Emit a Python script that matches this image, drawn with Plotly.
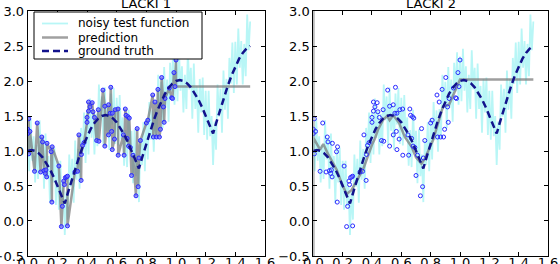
import numpy as np
import plotly.graph_objects as go

# ---------------- data ----------------
# ground truth sampled every 0.025
gt_y = [1.000, 1.013, 1.001, 0.966, 0.909, 0.832, 0.738, 0.629, 0.509, 0.381,
        0.250, 0.431, 0.609, 0.779, 0.938, 1.082, 1.209, 1.316, 1.401, 1.463,
        1.500, 1.513, 1.501, 1.466, 1.409, 1.332, 1.238, 1.129, 1.009, 0.881,
        0.750, 0.931, 1.109, 1.279, 1.438, 1.582, 1.709, 1.816, 1.901, 1.963,
        2.000, 2.013, 2.001, 1.966, 1.909, 1.832, 1.738, 1.629, 1.509, 1.381,
        1.250, 1.431, 1.609, 1.779, 1.938, 2.082, 2.209, 2.316, 2.401, 2.463,
        2.500]
gt_x = np.linspace(0, 1.5, len(gt_y))

# noisy test function sampled every 0.01
noisy_y = [1.35, 0.71, 1.46, 0.86, 1.21, 0.55, 1.09, 0.60, 1.44, 0.88,
           1.19, 0.46, 1.25, 0.60, 0.93, 0.26, 1.03, 0.55, 1.05, 0.23,
           0.86, 0.16, 0.86, 0.21, 0.50, -0.20, 0.42, 0.02, 0.95, 0.49,
           0.89, 0.26, 1.15, 0.59, 1.03, 0.46, 1.33, 0.96, 1.55, 0.83,
           1.56, 0.95, 1.75, 1.19, 1.57, 0.95, 1.53, 1.07, 1.95, 1.44,
           1.78, 1.09, 1.91, 1.29, 1.66, 1.02, 1.82, 1.38, 1.90, 1.10,
           1.76, 1.08, 1.80, 1.17, 1.48, 0.79, 1.30, 0.77, 1.59, 1.01,
           1.29, 0.54, 1.31, 0.64, 0.95, 0.27, 1.15, 0.80, 1.41, 0.71,
           1.46, 0.88, 1.70, 1.16, 1.58, 0.99, 1.60, 1.18, 2.09, 1.61,
           1.99, 1.33, 2.20, 1.62, 2.02, 1.42, 2.26, 1.85, 2.41, 1.66,
           2.35, 1.71, 2.46, 1.86, 2.21, 1.55, 2.09, 1.60, 2.44, 1.88,
           2.19, 1.46, 2.25, 1.60, 1.93, 1.26, 2.03, 1.55, 2.05, 1.23,
           1.86, 1.16, 1.86, 1.21, 1.50, 0.80, 1.42, 1.02, 1.95, 1.49,
           1.89, 1.26, 2.15, 1.59, 2.03, 1.46, 2.33, 1.96, 2.55, 1.83,
           2.56, 1.95, 2.75, 2.19, 2.57, 1.95, 2.53, 2.07, 2.95, 2.44,
           2.85]
noisy_x = np.linspace(0, 1.5, len(noisy_y))

# observed sample points
pts_x = [0.000, 0.000, 0.007, 0.007, 0.015, 0.046, 0.064, 0.087, 0.095, 0.100,
         0.110, 0.118, 0.123, 0.128, 0.130, 0.158, 0.163, 0.165, 0.210, 0.227,
         0.234, 0.243, 0.247, 0.254, 0.262, 0.268, 0.268, 0.318, 0.336, 0.345,
         0.360, 0.362, 0.370, 0.380, 0.400, 0.400, 0.410, 0.410, 0.420, 0.435,
         0.440, 0.450, 0.465, 0.476, 0.480, 0.507, 0.520, 0.520, 0.545, 0.545,
         0.556, 0.560, 0.566, 0.570, 0.570, 0.585, 0.590, 0.609, 0.610, 0.645,
         0.650, 0.658, 0.663, 0.670, 0.676, 0.680, 0.685, 0.692, 0.700, 0.710,
         0.730, 0.738, 0.745, 0.750, 0.760, 0.800, 0.810, 0.843, 0.847, 0.858,
         0.868, 0.878, 0.888, 0.895, 0.903, 0.915, 0.920, 0.926, 0.955, 0.970,
         0.976, 0.986, 0.993, 1.000]
pts_y = [1.31, 1.25, 1.46, 0.96, 1.28, 0.71, 1.40, 0.70, 1.20, 1.13,
         0.72, 0.68, 0.73, 0.63, 1.11, 0.99, 0.27, 1.06, 0.785, -0.08,
         0.21, 0.57, 0.52, 0.62, 0.63, 0.64, -0.07, 0.70, 0.71, 1.23,
         0.58, 0.95, 1.08, 1.12, 1.41, 1.48, 1.57, 1.70, 1.63, 1.69,
         1.56, 1.48, 1.15, 1.59, 1.14, 1.87, 1.64, 1.07, 1.66, 1.23,
         1.54, 1.91, 1.28, 1.54, 1.02, 1.17, 1.59, 1.60, 0.94, 1.23,
         0.94, 1.60, 1.51, 1.18, 1.49, 1.07, 1.47, 1.05, 0.65, 0.94,
         0.36, 1.32, 0.49, 0.90, 1.15, 1.40, 1.44, 1.80, 1.20, 1.70,
         1.20, 1.88, 1.20, 1.31, 2.05, 1.63, 1.41, 1.75, 1.90, 1.76,
         1.75, 2.12, 1.92, 2.30]

# LACKI 1 prediction: through the samples, then flat
pred1_tail_x = [1.0, 1.5]
pred1_tail_y = [1.92, 1.92]

# LACKI 2 prediction
pred2_x = [0.0, 0.0, 0.0, 0.046, 0.068, 0.10, 0.16, 0.193, 0.227, 0.26, 0.34,
           0.40, 0.42, 0.44, 0.477, 0.504, 0.52, 0.545, 0.585, 0.624, 0.67,
           0.70, 0.737, 0.76, 0.817, 0.885, 0.925, 1.0, 1.5]
pred2_y = [-0.6, 3.1, 1.19, 1.02, 1.10, 0.96, 0.73, 0.54, 0.385, 0.44, 0.74,
           1.09, 1.18, 1.30, 1.45, 1.50, 1.44, 1.51, 1.40, 1.20, 1.06,
           0.91, 0.82, 0.89, 1.16, 1.64, 1.66, 2.02, 2.02]

titles = ["LACKI 1", "LACKI 2"]
legend_labels = ["noisy test function", "prediction", "ground truth"]
xticks = [0.0, 0.2, 0.4, 0.6, 0.8, 1.0, 1.2, 1.4, 1.6]
yticks = [-0.5, 0.0, 0.5, 1.0, 1.5, 2.0, 2.5, 3.0]

# ---------------- styles ----------------
W, H = 560, 264
FONT = "DejaVu Sans"
FS = 13
LFS = 12
CYAN = "#b8f6f6"
GRAY = "rgba(120,120,120,0.72)"
LEG_GRAY = "#a0a0a0"
NAVY = "#12128c"
BLUE = "#2a2aff"
DASH = "7px,4px"

order = np.argsort(pts_x, kind="stable")
pred1_x = list(np.array(pts_x)[order]) + pred1_tail_x
pred1_y = list(np.array(pts_y)[order]) + pred1_tail_y

fig = go.Figure()
for k, (xa, ya) in enumerate([("x", "y"), ("x2", "y2")]):
    first = k == 0
    fig.add_trace(go.Scatter(x=noisy_x, y=noisy_y, mode="lines", xaxis=xa, yaxis=ya,
                             line=dict(color=CYAN, width=1.8),
                             name=legend_labels[0], showlegend=False))
    if first:
        fig.add_trace(go.Scatter(x=pred1_x, y=pred1_y, mode="lines", xaxis=xa, yaxis=ya,
                                 line=dict(color=GRAY, width=2.5),
                                 name=legend_labels[1], showlegend=False))
        fig.add_trace(go.Scatter(x=pts_x, y=pts_y, mode="markers", xaxis=xa, yaxis=ya,
                                 marker=dict(symbol="circle", size=4,
                                             color="rgba(110,110,255,0.7)",
                                             line=dict(color=BLUE, width=1)),
                                 showlegend=False))
    else:
        fig.add_trace(go.Scatter(x=pred2_x, y=pred2_y, mode="lines", xaxis=xa, yaxis=ya,
                                 line=dict(color=GRAY, width=2.5),
                                 name=legend_labels[1], showlegend=False))
        fig.add_trace(go.Scatter(x=pts_x, y=pts_y, mode="markers", xaxis=xa, yaxis=ya,
                                 marker=dict(symbol="circle-open", size=4, color=BLUE,
                                             line=dict(width=1)),
                                 showlegend=False))
    fig.add_trace(go.Scatter(x=gt_x, y=gt_y, mode="lines", xaxis=xa, yaxis=ya,
                             line=dict(color=NAVY, width=2.5, dash=DASH),
                             name=legend_labels[2], showlegend=False))

axis_common = dict(showline=True, linecolor="black", linewidth=1, mirror="allticks",
                   ticks="inside", ticklen=4, tickcolor="black", showgrid=False,
                   zeroline=False, automargin=False,
                   tickfont=dict(family=FONT, size=FS, color="black"),
                   tickformat=".1f")
xaxis_extra = dict(ticklabelstandoff=-6)
xdomains = [[0.0495, 0.4732], [0.5595, 0.9786]]
ydomain = [0.0303, 0.9583]


def px(xp):
    return xp / W


def py(yp):
    return (H - yp) / H


# hand-drawn legend box (matplotlib-like compact layout)
shapes = [dict(type="rect", xref="paper", yref="paper", x0=px(34), x1=px(202),
               y0=py(59), y1=py(12), line=dict(color="black", width=1),
               fillcolor="white", layer="above")]
annotations = []
row_y = [23.5, 37.5, 51]
styles = [dict(color=CYAN, width=1.8), dict(color=LEG_GRAY, width=2.5),
          dict(color=NAVY, width=2.5, dash=DASH)]
for lab, ry, st in zip(legend_labels, row_y, styles):
    shapes.append(dict(type="line", xref="paper", yref="paper", x0=px(42), x1=px(68),
                       y0=py(ry), y1=py(ry), line=st, layer="above"))
    annotations.append(dict(text=lab, x=px(77), y=py(ry), xref="paper", yref="paper",
                            xanchor="left", yanchor="middle", showarrow=False,
                            borderpad=0,
                            font=dict(family=FONT, size=LFS, color="black")))
for i in range(2):
    annotations.append(dict(text=titles[i], x=sum(xdomains[i]) / 2, y=py(13),
                            xref="paper", yref="paper", xanchor="center",
                            yanchor="bottom", showarrow=False,
                            font=dict(family=FONT, size=FS, color="black")))

fig.update_layout(
    width=W, height=H, margin=dict(l=0, r=0, t=0, b=0, autoexpand=False),
    paper_bgcolor="white", plot_bgcolor="white", showlegend=False,
    font=dict(family=FONT, size=FS, color="black"),
    xaxis=dict(domain=xdomains[0], range=[0, 1.6], tickvals=xticks, anchor="y",
               **axis_common, **xaxis_extra),
    yaxis=dict(domain=ydomain, range=[-0.5, 3.0], tickvals=yticks, anchor="x", **axis_common),
    xaxis2=dict(domain=xdomains[1], range=[0, 1.6], tickvals=xticks, anchor="y2",
                **axis_common, **xaxis_extra),
    yaxis2=dict(domain=ydomain, range=[-0.5, 3.0], tickvals=yticks, anchor="x2", **axis_common),
    shapes=shapes,
    annotations=annotations,
)

fig.write_html("out.html", config={"displayModeBar": False},
               post_script="document.body.style.margin='0';document.body.style.overflow='hidden';")
